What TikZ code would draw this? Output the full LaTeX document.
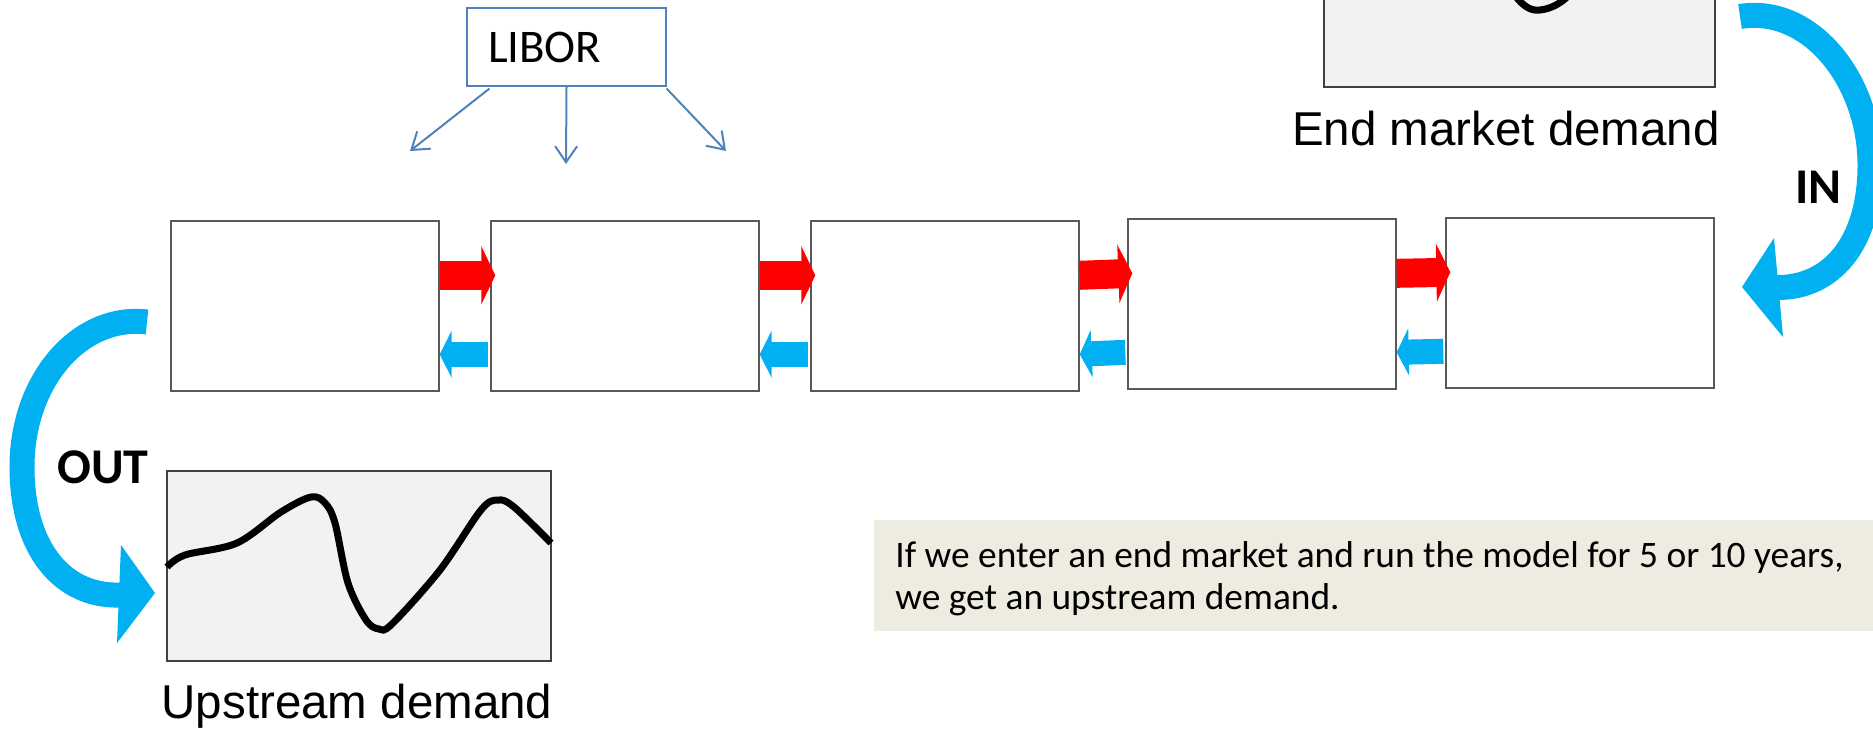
\documentclass[tikz,border=0pt]{standalone}
\usepackage{fontspec}
\setmainfont{Carlito}
\newfontfamily\arialfont{Liberation Sans}
\usetikzlibrary{arrows.meta,calc}
\definecolor{cyanarr}{HTML}{00B0F0}
\definecolor{redarr}{HTML}{FF0000}
\definecolor{liborblue}{HTML}{4F81BD}
\definecolor{notebg}{HTML}{EEECE1}
\definecolor{chartbg}{HTML}{F2F2F2}
\begin{document}
\begin{tikzpicture}[x=0.5pt,y=-0.5pt,
  stagebox/.style={draw=black!65, line width=0.7pt, fill=white, minimum width=134pt, minimum height=85pt, inner sep=0pt},
  chartbox/.style={draw=black!75, line width=1pt, fill=chartbg, minimum height=95pt, inner sep=0pt},
  wavepath/.style={draw=black, line width=3.5pt},
  biglabel/.style={font=\arialfont\fontsize{23.75}{28}\selectfont, inner sep=0pt},
  inoutlabel/.style={font=\bfseries\fontsize{25}{30}\selectfont, inner sep=0pt},
  redflow/.style={draw=redarr, line width=14.5pt, -{Triangle[length=7pt,width=29pt]}},
  blueflow/.style={draw=cyanarr, line width=12.5pt, -{Triangle[length=6pt,width=23.5pt]}},
  bigarc/.style={draw=cyanarr, line width=12.5pt},
  liborbox/.style={draw=liborblue, line width=0.6pt, minimum width=99.5pt, minimum height=39pt, text width=78.5pt, inner xsep=10.5pt, align=left, font=\fontsize{23.4}{28}\selectfont},
  liborarrow/.style={draw=liborblue, line width=1pt, -{Straight Barb[length=8pt,width=11pt]}},
  notebox/.style={fill=notebg, minimum width=499.5pt, minimum height=55.5pt, inner sep=0pt},
  notetext/.style={align=left, font=\fontsize{18.7}{21}\selectfont, inner sep=0pt}
]
\useasboundingbox (0,0) rectangle (1873,729);
\clip (0,0) rectangle (1873,729);

% stage boxes
\node[stagebox] (b1) at (305,306) {};
\node[stagebox] (b2) at (625,306) {};
\node[stagebox] (b3) at (945,306) {};
\node[stagebox] (b4) at (1262,304) {};
\node[stagebox] (b5) at (1580,303) {};

% red forward arrows
\draw[redflow] ($(b1.north east)+(0,55)$) -- ($(b2.north west)+(5,55)$);
\draw[redflow] ($(b2.north east)+(0,55)$) -- ($(b3.north west)+(5,55)$);
\draw[redflow] ($(b3.north east)+(0,55)$) -- ($(b4.north west)+(5,55)$);
\draw[redflow] ($(b4.north east)+(0,55)$) -- ($(b5.north west)+(5,55)$);

% blue backward arrows
\draw[blueflow] ($(b2.north west)+(-2,134)$) -- ($(b1.north east)+(0,134)$);
\draw[blueflow] ($(b3.north west)+(-2,134)$) -- ($(b2.north east)+(0,134)$);
\draw[blueflow] ($(b4.north west)+(-2,134)$) -- ($(b3.north east)+(0,134)$);
\draw[blueflow] ($(b5.north west)+(-2,134)$) -- ($(b4.north east)+(0,134)$);

% LIBOR
\node[liborbox] (libor) at (566.5,47) {LIBOR};
\coordinate (l1) at (410,151);
\coordinate (l2) at (566,164);
\coordinate (l3) at (726,151);
\draw[liborarrow] ($(libor.south west)+(23,2)$) -- (l1);
\draw[liborarrow] (libor.south) -- (l2);
\draw[liborarrow] ($(libor.south east)+(0,2)$) -- (l3);

% upstream demand chart
\node[chartbox, minimum width=192pt] (up) at (359,566) {};
\draw[wavepath] plot[smooth, tension=0.55] coordinates {(167,567) (185,555) (237,543) (281,512) (311,497) (325,503) (335,523) (348,583) (366,620) (379,629) (392,624) (440,570) (481,510) (498,500) (514,507) (551,543)};
\node[biglabel, anchor=base] (uplabel) at (357,718) {Upstream demand};

% end market demand chart
\node[chartbox, minimum width=195.5pt, anchor=south] (em) at (1519.5,88) {};
\draw[wavepath] (1514,-6) .. controls (1524,8) and (1532,11) .. (1540,10) .. controls (1550,9) and (1560,4) .. (1568,-4);
\node[biglabel, anchor=base] (emlabel) at (1506,145) {End market demand};

% IN arrow
\coordinate (inS) at (1740,16.5);
\coordinate (inE) at (1777,287.5);
\draw[bigarc] (inS) .. controls (1810,5) and (1870,80) .. (1870,165) .. controls (1870,245) and (1830,288) .. (inE);
\fill[cyanarr] (1742,287) -- (1774,238) -- (1783,337) -- cycle;
\node[inoutlabel, anchor=base west] (inlab) at (1795,203) {IN};

% OUT arrow
\coordinate (outS) at (147,322);
\coordinate (outE) at (120,595);
\draw[bigarc] (outS) .. controls (80,314) and (22,380) .. (22,467) .. controls (22,548) and (62,597) .. (outE);
\fill[cyanarr] (155,593) -- (121,545) -- (117,643) -- cycle;
\node[inoutlabel, anchor=base west] (outlab) at (57,483) {OUT};

% note
\node[notebox, anchor=north west] (note) at (874,520) {};
\node[notetext, anchor=north west] (notetxt) at (895,541) {If we enter an end market and run the model for 5 or 10 years,\\we get an upstream demand.};
\end{tikzpicture}
\end{document}
